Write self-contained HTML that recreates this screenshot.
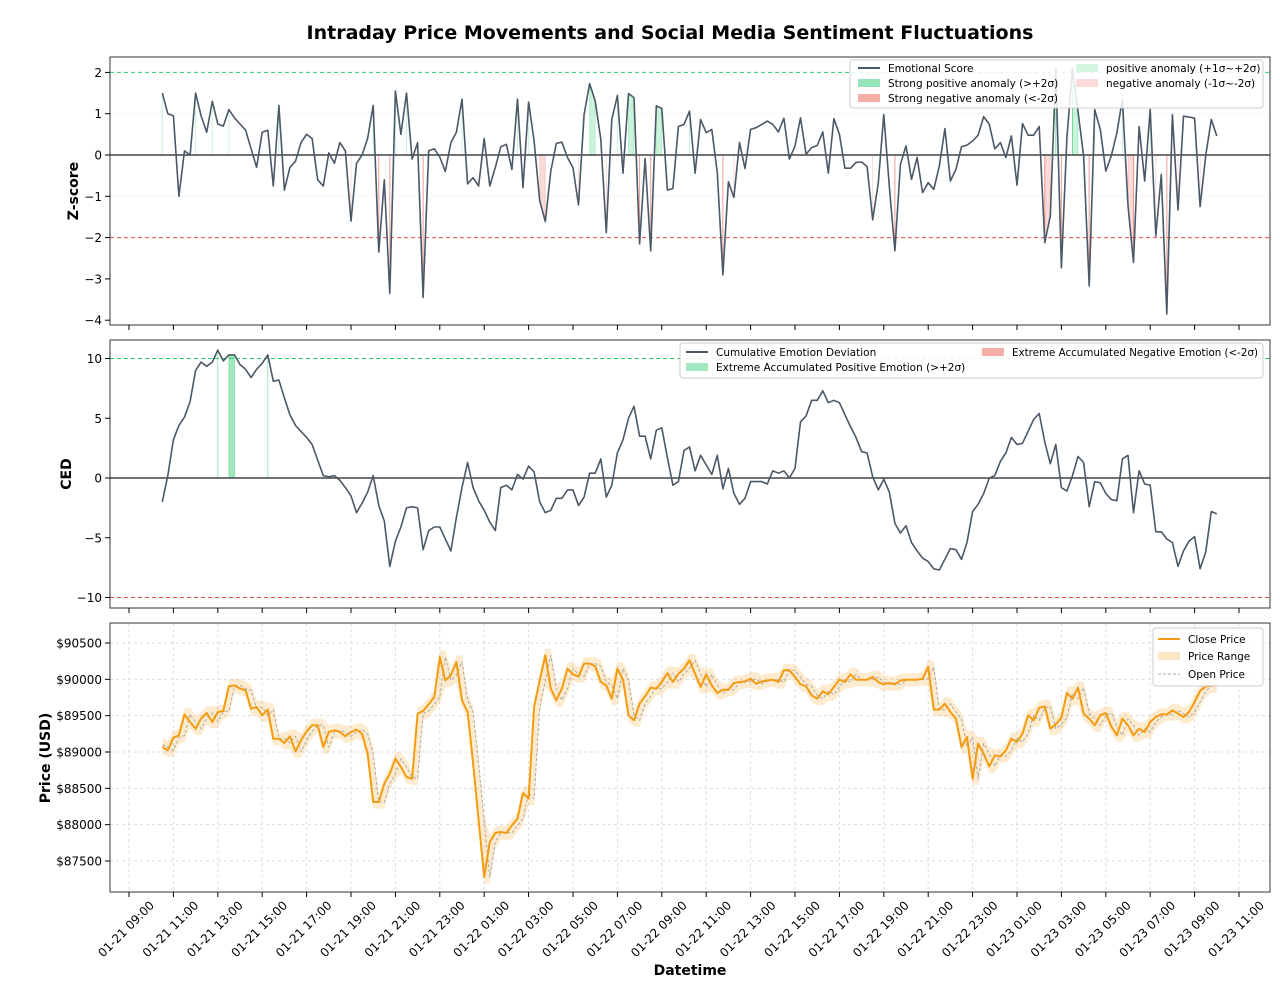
<!DOCTYPE html>
<html><head><meta charset="utf-8"><style>
body{margin:0;background:#fff;}
svg{display:block;font-family:"DejaVu Sans","Liberation Sans",sans-serif;}
</style></head><body>
<svg id="chart" width="1280" height="1005" viewBox="0 0 1280 1005" xmlns="http://www.w3.org/2000/svg">
<rect width="1280" height="1005" fill="#fff"/>
<text x="670" y="39" text-anchor="middle" font-size="19" font-weight="bold">Intraday Price Movements and Social Media Sentiment Fluctuations</text>
<g id="p1"></g>
<g id="p2"></g>
<g id="p3"></g>
<text transform="translate(78,191) rotate(-90)" text-anchor="middle" font-size="14" font-weight="bold">Z-score</text>
<text transform="translate(71,474) rotate(-90)" text-anchor="middle" font-size="14" font-weight="bold">CED</text>
<text transform="translate(50,758) rotate(-90)" text-anchor="middle" font-size="14" font-weight="bold">Price (USD)</text>
<text x="690" y="975" text-anchor="middle" font-size="14" font-weight="bold">Datetime</text>
</svg>
<script>
const startHour = 1.5; // 01-21 10:30, hours since 01-21 09:00
const stepHour = 0.25;
const xTickLabels = ["01-21 09:00","01-21 11:00","01-21 13:00","01-21 15:00","01-21 17:00","01-21 19:00","01-21 21:00","01-21 23:00","01-22 01:00","01-22 03:00","01-22 05:00","01-22 07:00","01-22 09:00","01-22 11:00","01-22 13:00","01-22 15:00","01-22 17:00","01-22 19:00","01-22 21:00","01-22 23:00","01-23 01:00","01-23 03:00","01-23 05:00","01-23 07:00","01-23 09:00","01-23 11:00"];
const zscore = [1.5,1.0,0.95,-1.0,0.1,0.0,1.5,0.95,0.55,1.3,0.75,0.7,1.1,0.9,0.75,0.6,0.15,-0.3,0.55,0.6,-0.75,1.2,-0.85,-0.3,-0.15,0.3,0.5,0.4,-0.6,-0.75,0.05,-0.2,0.3,0.1,-1.6,-0.2,0.0,0.4,1.2,-2.35,-0.6,-3.35,1.55,0.5,1.5,-0.1,0.3,-3.45,0.1,0.15,-0.05,-0.4,0.3,0.55,1.35,-0.7,-0.55,-0.75,0.4,-0.75,-0.3,0.2,
0.26,-0.35,1.35,-0.79,1.28,0.34,-1.11,-1.61,-0.39,0.28,0.31,-0.06,-0.31,-1.21,0.98,1.73,1.31,0.38,-1.88,0.86,1.44,-0.44,1.49,1.39,-2.15,-0.09,-2.32,1.19,1.13,-0.85,-0.81,0.69,0.74,1.06,
-0.44,0.86,0.54,0.62,-0.43,-2.9,-0.65,-1.03,0.3,-0.33,0.62,0.66,0.74,0.82,0.74,0.56,0.89,-0.1,0.22,0.9,0.02,0.18,0.23,0.56,-0.44,0.88,0.5,-0.32,-0.32,-0.18,-0.17,-0.28,-1.57,-0.67,0.98,-0.79,-2.32,-0.23,0.22,-0.59,-0.06,-0.91,-0.67,-0.83,-0.27,0.64,-0.63,-0.35,0.2,0.24,0.34,0.48,0.93,0.74,0.15,0.3,-0.06,0.46,-0.73,0.76,0.48,0.48,0.69,-2.12,-1.48,2.1,-2.73,0.42,2.1,1.06,-0.02,-3.17,1.1,0.62,-0.39,-0.02,0.54,1.35,-1.23,-2.6,0.69,-0.63,1.1,-1.96,-0.47,-3.85,0.98,-1.33,0.94,0.92,0.89,-1.25,-0.02,0.86,0.46];
const ced = [-2.0,0.2,3.2,4.4,5.1,6.4,9.0,9.7,9.35,9.7,10.7,9.8,10.3,10.3,9.5,9.1,8.4,9.1,9.6,10.3,8.1,8.2,6.7,5.3,4.4,3.9,3.4,2.8,1.5,0.2,0.1,0.2,-0.2,-0.8,-1.5,-2.9,-2.1,-1.2,0.2,-2.3,-3.6,-7.4,-5.3,-4.1,-2.5,-2.4,-2.5,-6.0,-4.4,-4.1,-4.1,-5.1,-6.1,-3.3,-0.8,1.3,-0.8,-1.9,-2.7,-3.7,-4.4,-0.8,-0.6,-1.0,0.3,-0.1,1.0,0.5,-2.0,-2.9,-2.7,-1.7,-1.7,-1.0,-1.0,-2.3,-1.6,0.4,0.4,1.6,-1.6,-0.6,2.1,3.2,5.0,6.0,3.5,3.5,1.6,4.0,4.2,1.7,-0.6,-0.3,2.3,2.6,
0.6,1.9,1.1,0.3,1.9,-0.9,0.8,-1.3,-2.2,-1.7,-0.3,-0.3,-0.3,-0.5,0.6,0.4,0.6,0,0.8,4.7,5.2,6.5,6.5,7.3,6.3,6.5,6.3,5.3,4.3,3.4,2.2,2.1,0.1,-1.0,-0.1,-1.2,-3.8,-4.6,-4.0,-5.4,-6.1,-6.7,-7.0,-7.6,-7.7,-6.8,-5.9,-6.0,-6.8,-5.4,-2.8,-2.2,-1.3,0,0.2,1.4,2.1,3.4,2.8,2.9,3.9,4.9,5.4,3.0,1.2,2.8,-0.8,-1.1,0.2,1.8,1.3,-2.4,-0.3,-0.4,-1.3,-1.8,-1.9,1.6,1.9,-2.9,0.6,-0.5,-0.6,-4.5,-4.5,-5.1,-5.4,-7.4,-6.1,-5.3,-4.9,-7.6,-6.2,-2.8,-3.0];
const closePrice = [89069,89023,89197,89229,89518,89413,89321,89459,89537,89413,89550,89564,89904,89917,89872,89849,89596,89619,89505,89583,89183,89183,89124,89216,89009,89161,89284,89367,89367,89069,89275,89298,89275,89216,89275,89307,89252,88977,88312,88312,88564,88702,88908,88794,88656,88633,89528,89564,89656,89757,90307,89986,90055,90239,89711,89550,88840,88060,87280,87762,87885,87899,87885,87991,88083,88436,88358,89619,89986,90330,89872,89711,89872,90147,90069,90041,90216,90216,90179,89963,89917,89734,90147,89995,89505,89436,89665,89766,89885,89872,89963,90087,89963,90078,90147,90262,
90078,89894,90069,89917,89812,89858,89858,89950,89963,89972,90009,89940,89972,89986,89995,89963,90124,90124,90032,89931,89904,89780,89734,89835,89794,89894,89995,89963,90069,89995,89995,89995,90032,89963,89931,89950,89931,89986,89995,89995,89995,90009,90170,89583,89583,89665,89550,89459,89069,89206,88633,89115,88977,88803,88954,88940,89023,89183,89138,89252,89505,89436,89610,89628,89321,89381,89473,89812,89734,89885,89528,89459,89367,89505,89537,89353,89229,89459,89367,89229,89321,89275,89413,89482,89518,89518,89573,89528,89482,89550,89688,89840,89904,89910,89920];
const zTicks = [2,1,0,-1,-2,-3,-4];
const cedTicks = [10,5,0,-5,-10];
const priceTicks = [90500,90000,89500,89000,88500,88000,87500];

const NS = "http://www.w3.org/2000/svg";
const L = 110, R = 1270;
const X = h => 129 + h * 22.2;
const xi = i => X(startHour + i * stepHour);
const yZ = v => 155 - v * 41.3;
const yC = v => 478 - v * 11.95;
const yP = v => 643 + (90500 - v) * 0.07267;
function mk(tag, attrs, parent) { const e = document.createElementNS(NS, tag); for (const k in attrs) e.setAttribute(k, attrs[k]); parent.appendChild(e); return e; }
const fmtNum = v => (v < 0 ? "\u2212" + Math.abs(v) : "" + v);

function frame(g, top, bot, name) {
  for (let k = 0; k < xTickLabels.length; k++) {
    const x = X(k * 2);
    const t = mk("line", {x1: x, x2: x, y1: bot, y2: bot + 5, stroke: "#000", "stroke-width": 1}, g);
    
    
  }
}
function yAxis(g, ticks, yf, fmt, name) {
  ticks.forEach(v => {
    const y = yf(v);
    const t = mk("line", {x1: L - 5, x2: L, y1: y, y2: y, stroke: "#000"}, g);
    
    
    const tx = mk("text", {x: L - 8, y: y + 4.5, "text-anchor": "end", "font-size": 12}, g);
    tx.textContent = fmt(v);
    
    
  });
}
function border(g, top, bot, name) {
  const r = mk("rect", {x: L, y: top, width: R - L, height: bot - top, fill: "none", stroke: "#333", "stroke-width": 1}, g);
  
  
}
function hline(g, y, color, dash, w, name) {
  const l = mk("line", {x1: L, x2: R, y1: y, y2: y, stroke: color, "stroke-width": w}, g);
  if (dash) l.setAttribute("stroke-dasharray", dash);
  
  
}
function fills(g, vals, yf, pred, color, op, name) {
  let i = 0;
  while (i < vals.length) {
    if (!pred(vals[i])) { i++; continue; }
    let j = i; while (j + 1 < vals.length && pred(vals[j + 1])) j++;
    if (i === j) {
      const l = mk("line", {x1: xi(i), x2: xi(i), y1: yf(0), y2: yf(vals[i]), stroke: color, "stroke-opacity": op, "stroke-width": 1}, g);
      
      
    } else {
      let pts = [];
      for (let k = i; k <= j; k++) pts.push(xi(k) + "," + yf(vals[k]));
      for (let k = j; k >= i; k--) pts.push(xi(k) + "," + yf(0));
      const p = mk("polygon", {points: pts.join(" "), fill: color, "fill-opacity": op, stroke: color, "stroke-opacity": op, "stroke-width": 1}, g);
      
      
    }
    i = j + 1;
  }
}
function line(g, vals, yf, color, w, name, dash) {
  const d = vals.map((v, i) => (i ? "L" : "M") + xi(i).toFixed(1) + "," + yf(v).toFixed(1)).join("");
  const p = mk("path", {d: d, fill: "none", stroke: color, "stroke-width": w, "stroke-linejoin": "round"}, g);
  if (dash) p.setAttribute("stroke-dasharray", dash);
  
  
  return p;
}
function legendBox(g, x, y, w, h, name) {
  const r = mk("rect", {x: x, y: y, width: w, height: h, rx: 3, fill: "#fff", "fill-opacity": 0.85, stroke: "#ccc"}, g);
  
  
}
function legendItem(g, x, y, kind, color, op, label, name, tlen) {
  let m;
  if (kind === "line") m = mk("line", {x1: x, x2: x + 22, y1: y, y2: y, stroke: color, "stroke-width": 2}, g);
  else if (kind === "dash") m = mk("line", {x1: x, x2: x + 22, y1: y, y2: y, stroke: color, "stroke-width": 1, "stroke-dasharray": "3,2"}, g);
  else m = mk("rect", {x: x, y: y - 4, width: 22, height: 8, fill: color, "fill-opacity": op}, g);
  
  
  const t = mk("text", {x: x + 30, y: y + 4, "font-size": 10.5}, g);
  if (tlen) { t.setAttribute("textLength", tlen); t.setAttribute("lengthAdjust", "spacingAndGlyphs"); }
  t.textContent = label;
  
  
}
const G = "#2ecc71", RD = "#e74c3c", LC = "#4a5867";

// Panel 1
const g1 = document.getElementById("p1");
hline(g1, yZ(2), G, "4,3", 1, "plus-2-sigma-line");
hline(g1, yZ(-2), RD, "4,3", 1, "minus-2-sigma-line");
hline(g1, yZ(1), "#eee", "2,2", 1, "plus-1-sigma-grid");
hline(g1, yZ(-1), "#eee", "2,2", 1, "minus-1-sigma-grid");
fills(g1, zscore, yZ, v => v > 1, G, 0.25, "positive-anomaly-fill");
fills(g1, zscore, yZ, v => v > 2, G, 0.5, "strong-positive-anomaly-fill");
fills(g1, zscore, yZ, v => v < -1, RD, 0.2, "negative-anomaly-fill");
fills(g1, zscore, yZ, v => v < -2, RD, 0.4, "strong-negative-anomaly-fill");
hline(g1, yZ(0), "#444", null, 1.5, "zero-line");
line(g1, zscore, yZ, LC, 1.6, "emotional-score-line");
border(g1, 57, 325, "zscore");
yAxis(g1, zTicks, yZ, fmtNum, "zscore");
frame(g1, 57, 325, "zscore");
legendBox(g1, 850, 60, 413, 48, "zscore-legend");
legendItem(g1, 858, 68, "line", LC, 1, "Emotional Score", "legend-emotional-score");
legendItem(g1, 858, 83, "rect", G, 0.5, "Strong positive anomaly (>+2\u03c3)", "legend-strong-positive");
legendItem(g1, 858, 98, "rect", RD, 0.45, "Strong negative anomaly (<-2\u03c3)", "legend-strong-negative");
legendItem(g1, 1076, 68, "rect", G, 0.2, "positive anomaly (+1\u03c3~+2\u03c3)", "legend-positive");
legendItem(g1, 1076, 83, "rect", RD, 0.2, "negative anomaly (-1\u03c3~-2\u03c3)", "legend-negative");

// Panel 2
const g2 = document.getElementById("p2");
hline(g2, yC(10), G, "4,3", 1, "ced-plus-threshold");
hline(g2, yC(-10), RD, "4,3", 1, "ced-minus-threshold");
fills(g2, ced, yC, v => v > 10, G, 0.45, "extreme-positive-fill");
fills(g2, ced, yC, v => v < -10, RD, 0.45, "extreme-negative-fill");
hline(g2, yC(0), "#444", null, 1.5, "ced-zero-line");
line(g2, ced, yC, LC, 1.6, "ced-line");
border(g2, 340, 608, "ced");
yAxis(g2, cedTicks, yC, fmtNum, "ced");
frame(g2, 340, 608, "ced");
legendBox(g2, 680, 343, 583, 35, "ced-legend");
legendItem(g2, 686, 352, "line", LC, 1, "Cumulative Emotion Deviation", "legend-ced");
legendItem(g2, 686, 367, "rect", G, 0.45, "Extreme Accumulated Positive Emotion (>+2\u03c3)", "legend-extreme-positive");
legendItem(g2, 982, 352, "rect", RD, 0.45, "Extreme Accumulated Negative Emotion (<-2\u03c3)", "legend-extreme-negative", 246);

// Panel 3
const g3 = document.getElementById("p3");
priceTicks.forEach(v => hline(g3, yP(v), "#ddd", "3,3", 1, "price-grid-h"));
for (let k = 0; k < xTickLabels.length; k++) {
  const gl = mk("line", {x1: X(k * 2), x2: X(k * 2), y1: 623, y2: 892, stroke: "#ddd", "stroke-dasharray": "3,3"}, g3);
  
  
}
const openPrice = closePrice.map((v, i) => i ? closePrice[i - 1] : 89100);
let up = [], dn = [];
closePrice.forEach((c, i) => {
  up.push(xi(i).toFixed(1) + "," + yP(Math.max(c, openPrice[i]) + 90).toFixed(1));
  dn.unshift(xi(i).toFixed(1) + "," + yP(Math.min(c, openPrice[i]) - 90).toFixed(1));
});
const band = mk("polygon", {points: up.concat(dn).join(" "), fill: "#f39c12", "fill-opacity": 0.2}, g3);


line(g3, openPrice, yP, "#aaa", 1, "open-price-line", "3,2");
line(g3, closePrice, yP, "#f39c12", 2, "close-price-line");
border(g3, 623, 892, "price");
yAxis(g3, priceTicks, yP, v => "$" + v, "price");
frame(g3, 623, 892, "price");
xTickLabels.forEach((s, k) => {
  const x = X(k * 2);
  const t = mk("text", {transform: "translate(" + (x) + ",932) rotate(-45)", "text-anchor": "middle", "font-size": 12}, g3);
  t.textContent = s;
  
  
});
legendBox(g3, 1153, 628, 110, 58, "price-legend");
legendItem(g3, 1158, 639, "line", "#f39c12", 1, "Close Price", "legend-close-price");
legendItem(g3, 1158, 656, "rect", "#f39c12", 0.25, "Price Range", "legend-price-range");
legendItem(g3, 1158, 674, "dash", "#aaa", 1, "Open Price", "legend-open-price");
</script>
</body></html>
